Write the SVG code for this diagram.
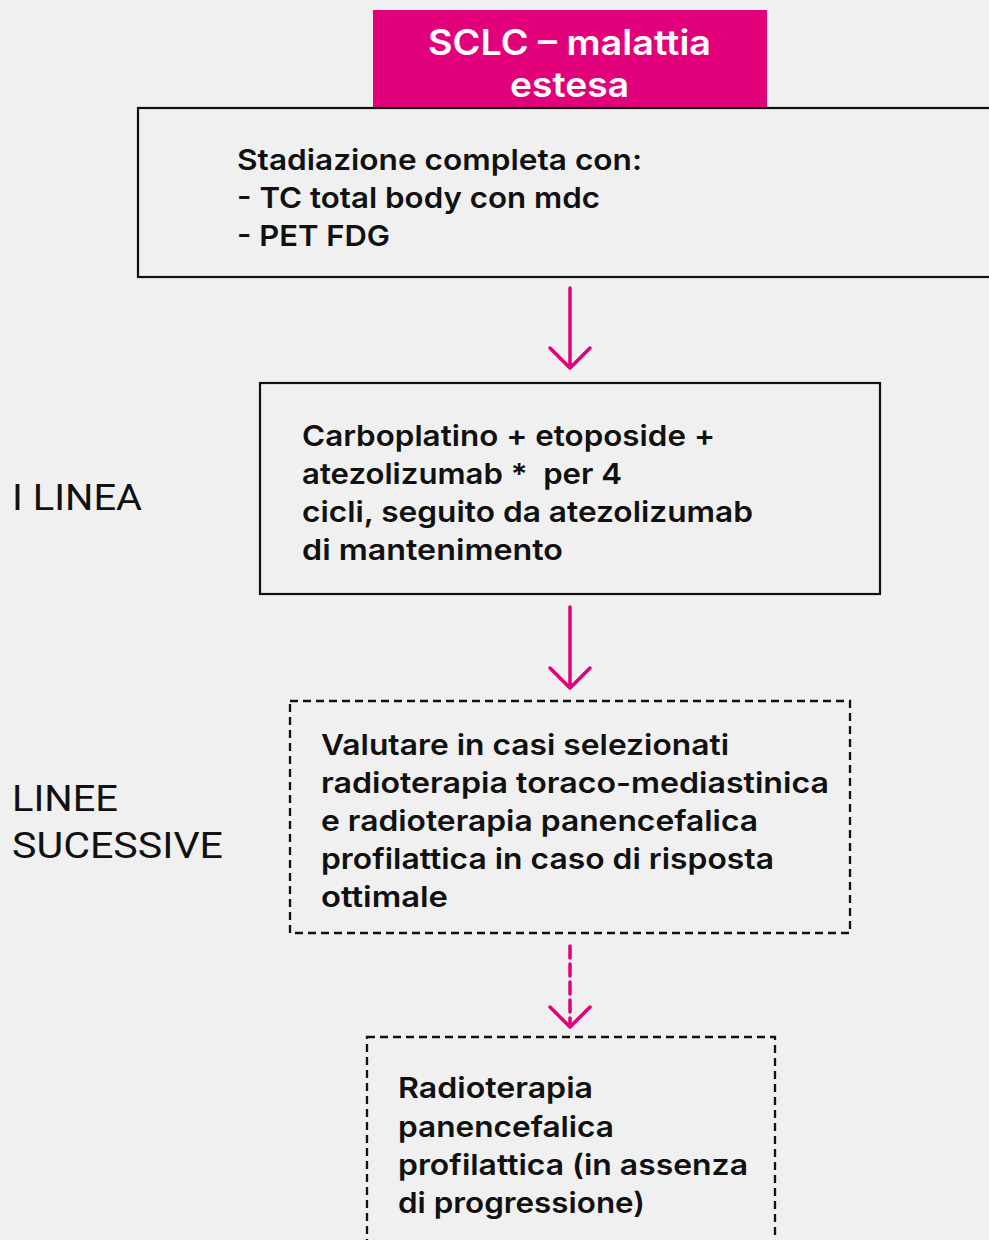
<svg xmlns="http://www.w3.org/2000/svg" width="989" height="1240" viewBox="0 0 989 1240">
<defs>
<style>
.bg{fill:#f0f0f0}
.box{fill:none;stroke:#111;stroke-width:2.2}
.dbox{fill:none;stroke:#111;stroke-width:2.3;stroke-dasharray:8 5}
.t{font-family:Inter,"Noto Sans","Liberation Sans",sans-serif;font-weight:600;font-size:29px;fill:#111}
.title{font-family:Inter,"Noto Sans","Liberation Sans",sans-serif;font-weight:600;font-size:35px;fill:#fff}
.lbl{font-family:Roboto,"Liberation Sans",sans-serif;font-weight:400;font-size:36px;fill:#111}
.arr{fill:none;stroke:#e2007a;stroke-width:3.5;stroke-linecap:round;stroke-linejoin:round}
</style>
</defs>
<rect class="bg" x="0" y="0" width="989" height="1240"/>
<g id="title">
<rect x="373" y="10" width="394" height="97" fill="#e2007a"/>
<text class="title" x="428" y="55" textLength="283" lengthAdjust="spacingAndGlyphs">SCLC – malattia</text>
<text class="title" x="510" y="97" textLength="119" lengthAdjust="spacingAndGlyphs">estesa</text>
</g>
<g id="staging">
<rect class="box" x="138" y="108" width="900" height="169"/>
<text class="t" x="237" y="170" textLength="405" lengthAdjust="spacingAndGlyphs">Stadiazione completa con:</text>
<text class="t" x="237" y="208" textLength="363" lengthAdjust="spacingAndGlyphs">- TC total body con mdc</text>
<text class="t" x="237" y="246" textLength="153" lengthAdjust="spacingAndGlyphs">- PET FDG</text>
</g>
<g id="first-line">
<rect class="box" x="260" y="383" width="620" height="211"/>
<text class="t" x="302" y="446" textLength="413" lengthAdjust="spacingAndGlyphs">Carboplatino + etoposide +</text>
<text class="t" x="302" y="484" textLength="320" lengthAdjust="spacingAndGlyphs" xml:space="preserve">atezolizumab *  per 4</text>
<text class="t" x="302" y="522" textLength="451" lengthAdjust="spacingAndGlyphs">cicli, seguito da atezolizumab</text>
<text class="t" x="302" y="560" textLength="261" lengthAdjust="spacingAndGlyphs">di mantenimento</text>
</g>
<g id="label-first">
<text class="lbl" x="12" y="510" textLength="130" lengthAdjust="spacingAndGlyphs">I LINEA</text>
</g>
<g id="radio">
<rect class="dbox" x="290" y="701" width="560" height="232"/>
<text class="t" x="321" y="755" textLength="408" lengthAdjust="spacingAndGlyphs">Valutare in casi selezionati</text>
<text class="t" x="321" y="793" textLength="508" lengthAdjust="spacingAndGlyphs">radioterapia toraco-mediastinica</text>
<text class="t" x="321" y="831" textLength="437" lengthAdjust="spacingAndGlyphs">e radioterapia panencefalica</text>
<text class="t" x="321" y="869" textLength="453" lengthAdjust="spacingAndGlyphs">profilattica in caso di risposta</text>
<text class="t" x="321" y="907" textLength="127" lengthAdjust="spacingAndGlyphs">ottimale</text>
</g>
<g id="label-next">
<text class="lbl" x="12" y="811" textLength="106" lengthAdjust="spacingAndGlyphs">LINEE</text>
<text class="lbl" x="12" y="858" textLength="211" lengthAdjust="spacingAndGlyphs">SUCESSIVE</text>
</g>
<g id="pci">
<rect class="dbox" x="367" y="1037" width="408" height="230"/>
<text class="t" x="398" y="1098" textLength="195" lengthAdjust="spacingAndGlyphs">Radioterapia</text>
<text class="t" x="398" y="1137" textLength="216" lengthAdjust="spacingAndGlyphs">panencefalica</text>
<text class="t" x="398" y="1175" textLength="350" lengthAdjust="spacingAndGlyphs">profilattica (in assenza</text>
<text class="t" x="398" y="1213" textLength="247" lengthAdjust="spacingAndGlyphs">di progressione)</text>
</g>
<g id="connectors">
<path class="arr" d="M570 288 V367 M550 348 L570 368 L590 348"/>
<path class="arr" d="M570 607 V687 M550 668 L570 688 L590 668"/>
<path class="arr" d="M570 946 V1026" stroke-dasharray="12 6" stroke-width="4"/>
<path class="arr" d="M550 1007 L570 1027 L590 1007"/>
</g>
</svg>
